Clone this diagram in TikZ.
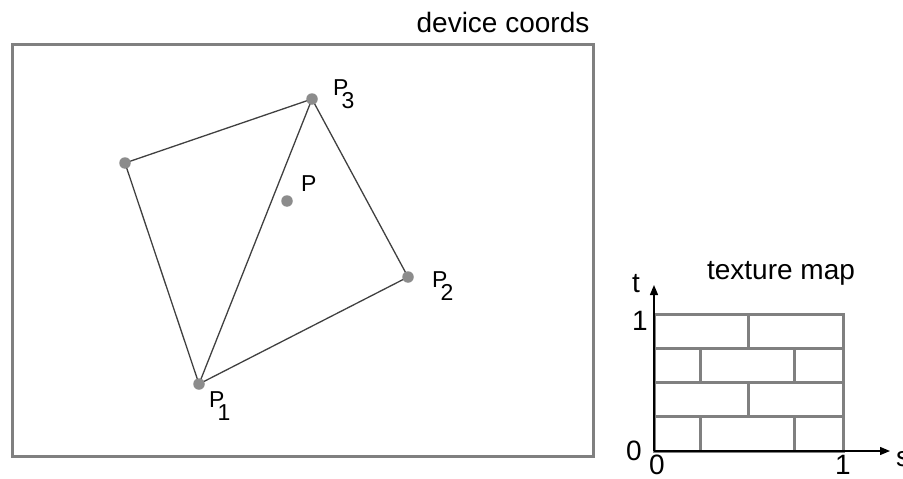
\documentclass[tikz,border=0pt]{standalone}
\usepackage{fontspec}
\setmainfont{Liberation Sans}
\usetikzlibrary{arrows.meta}
\newcommand\Psub[1]{P\kern-0.3em\raisebox{-0.6em}{#1}}
\begin{document}
\begin{tikzpicture}[x=1pt,y=-1pt,
  dot/.style={circle,fill=black!45,inner sep=0pt,minimum size=11.5pt},
  edge/.style={draw=black!75,line width=1.3pt},
  frame/.style={draw=black!50,line width=3pt},
  brick/.style={draw=black!50,line width=3pt},
  big/.style={inner sep=0pt,font=\fontsize{28}{30}\selectfont},
  mid/.style={inner sep=0pt,font=\fontsize{28}{30}\selectfont},
  plbl/.style={inner sep=0pt,anchor=base west,font=\fontsize{23}{25}\selectfont},
  axis/.style={line width=1.3pt,-{Triangle[length=10pt,width=8pt]}}]
\useasboundingbox (0,0) rectangle (903,479);
% device frame
\draw[frame] (12,44) rectangle (593,456);
\node[big] (dev) at (503,22) {device coords};
% vertices
\coordinate (c1) at (199,384);
\coordinate (c2) at (408,277);
\coordinate (c3) at (312,99);
\coordinate (c4) at (125,163);
\coordinate (cp) at (287,201);
\draw[edge] (c4) -- (c3) -- (c2) -- (c1) -- cycle;
\draw[edge] (c1) -- (c3);
\node[dot] (p1) at (c1) {};
\node[dot] (p2) at (c2) {};
\node[dot] (p3) at (c3) {};
\node[dot] (p4) at (c4) {};
\node[dot] (pp) at (cp) {};
\node[plbl] (l1) at (209,407) {\Psub{1}};
\node[plbl] (l2) at (432,287) {\Psub{2}};
\node[plbl] (l3) at (333,95) {\Psub{3}};
\node[plbl] (lp) at (301,191) {P};
% texture map
\draw[brick] (654,314) rectangle (843,451);
\draw[brick] (654,348) -- (843,348);
\draw[brick] (654,382) -- (843,382);
\draw[brick] (654,416) -- (843,416);
\draw[brick] (748,314) -- (748,348);
\draw[brick] (700,348) -- (700,382);
\draw[brick] (794,348) -- (794,382);
\draw[brick] (748,382) -- (748,416);
\draw[brick] (700,416) -- (700,451);
\draw[brick] (794,416) -- (794,451);
\coordinate (o) at (654,451);
\coordinate (tend) at (654,285);
\coordinate (send) at (890,451);
\draw[axis] (o) -- (tend);
\draw[axis] (o) -- (send);
\node[mid] (tex) at (781,273) {texture map};
\node[mid] (tl) at (636,284) {t};
\node[mid] (t1) at (640,321) {1};
\node[mid] (t0) at (634,451) {0};
\node[mid] (s0) at (657,465) {0};
\node[mid] (s1) at (843,465) {1};
\node[mid,anchor=west] (sl) at (896,459) {s};
\end{tikzpicture}
\end{document}
